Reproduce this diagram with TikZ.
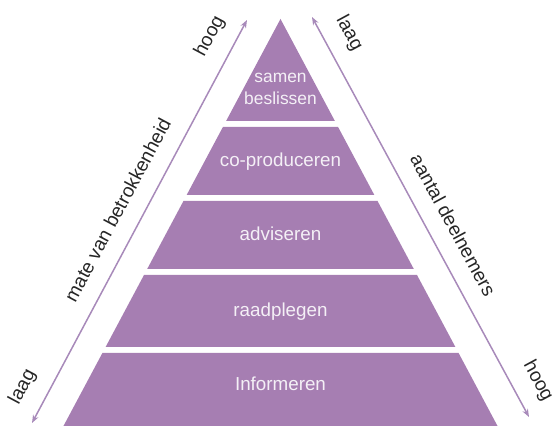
\documentclass[tikz,border=0pt]{standalone}
\usepackage{fontspec}
\setmainfont{Liberation Sans}
\usetikzlibrary{arrows.meta, calc}

\begin{document}
\begin{tikzpicture}[x=0.5pt, y=-0.5pt]
  \definecolor{bandcol}{RGB}{166,126,178}
  \definecolor{arrowcol}{RGB}{168,138,186}
  \definecolor{textcol}{RGB}{244,240,246}
  \tikzset{
    band/.style={fill=bandcol, draw=none},
    bandlbl/.style={text=textcol, font=\fontsize{9.4}{11}\selectfont,
      align=center, inner sep=0pt, anchor=base},
    sidelbl/.style={sloped, font=\fontsize{9.6}{11}\selectfont,
      text=black!85, inner sep=0pt, yshift=12.5pt},
    biarr/.style={{Stealth[length=4pt, width=3pt]}-{Stealth[length=4pt, width=3pt]},
      line width=0.75pt, color=arrowcol}
  }
  \useasboundingbox (0,0) rectangle (554,426);
  % bands of the pyramid
  \foreach \ya/\yb in {19/121, 127/195, 201/269, 275/347, 353/426}
    \fill[band] ({280.5-0.5332*(\ya-19)},\ya) -- ({280.5+0.5332*(\ya-19)},\ya)
      -- ({280.5+0.5332*(\yb-19)},\yb) -- ({280.5-0.5332*(\yb-19)},\yb) -- cycle;
  \node[bandlbl, anchor=center, font=\fontsize{8.7}{11}\selectfont] (samen) at (280.5,89) {samen\\beslissen};
  \node[bandlbl] (coprod) at (280.5,167) {co-produceren};
  \node[bandlbl] (advies) at (280.5,241) {adviseren};
  \node[bandlbl] (raadpl) at (280.5,317) {raadplegen};
  \node[bandlbl] (inform) at (280.5,391) {Informeren};
  % side arrows
  \coordinate (leftBot) at (32,423);
  \coordinate (leftTop) at (247,20);
  \coordinate (rightTop) at (312,17);
  \coordinate (rightBot) at (529,417);
  \draw[biarr] (leftBot) -- (leftTop)
    node[sidelbl, pos=0.06] (laagL) {laag}
    node[sidelbl, pos=0.5] (mate) {mate van betrokkenheid}
    node[sidelbl, pos=0.93] (hoogL) {hoog};
  \draw[biarr] (rightTop) -- (rightBot)
    node[sidelbl, pos=0.07] (laagR) {laag}
    node[sidelbl, pos=0.55] (aantal) {aantal deelnemers}
    node[sidelbl, pos=0.94] (hoogR) {hoog};
\end{tikzpicture}
\end{document}
